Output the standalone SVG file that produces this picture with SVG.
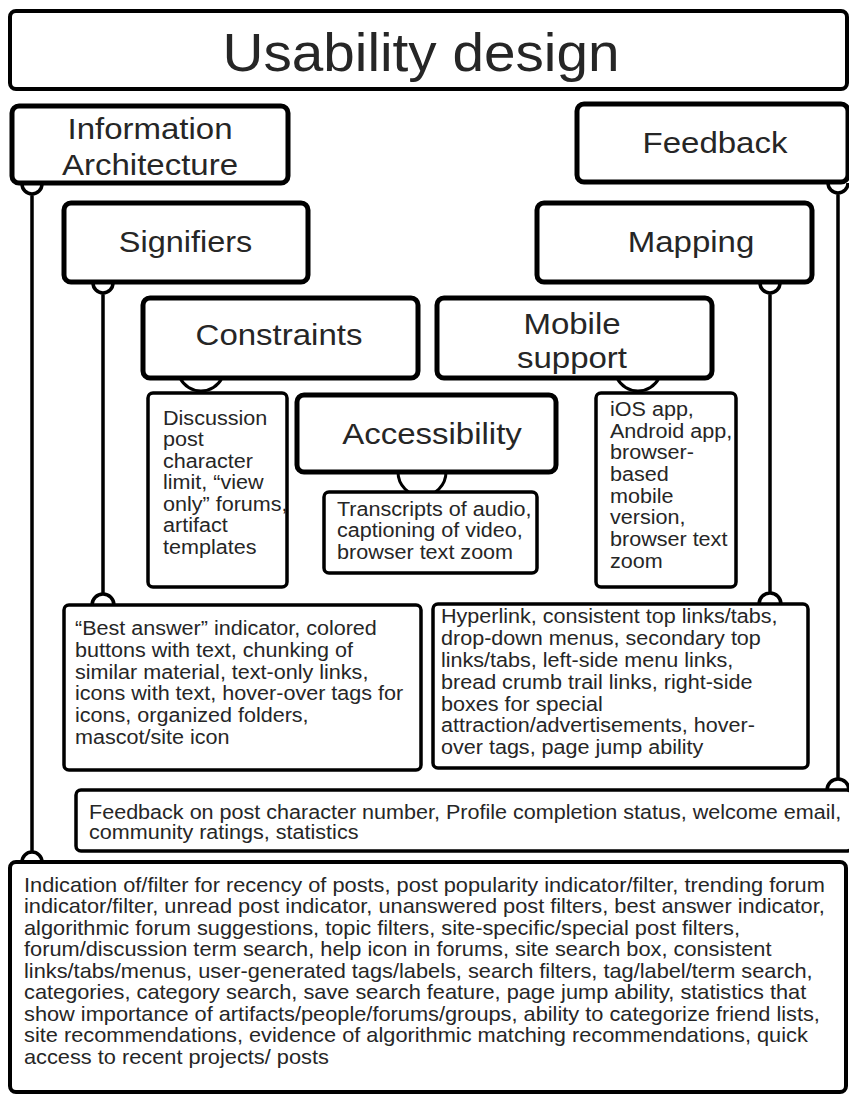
<svg xmlns="http://www.w3.org/2000/svg" width="849" height="1094" viewBox="0 0 849 1094">
<style>
.hdr{fill:#fff;stroke:#000;stroke-width:5}
.lst{fill:#fff;stroke:#000;stroke-width:3.5}
.big{font-family:"Liberation Sans",Arial,sans-serif;font-size:30px;fill:#262626;text-anchor:middle}
.sm{font-family:"Liberation Sans",Arial,sans-serif;font-size:19.6px;fill:#262626}
.con{fill:none;stroke:#000;stroke-width:3.5}
.seg{fill:#fff;stroke:#000;stroke-width:3}
</style>
<rect width="849" height="1094" fill="#fff"/>
<g id="connectors">
<path class="con" d="M22,184 A10,10 0 0 0 42,184 M32,194 V852 M22,862 A10,10 0 0 1 42,862"/>
<path class="con" d="M93,283 A10,10 0 0 0 113,283 M103,293 V595 M92,605 A11,11 0 0 1 114,605"/>
<path class="con" d="M760,283 A10,10 0 0 0 780,283 M770,293 V593 M759,604 A11,11 0 0 1 781,604"/>
<path class="con" d="M828,183 A10,10 0 0 0 848,183 M838,193 V780 M827,790 A11,11 0 0 1 849,790"/>
<path class="seg" d="M180,378 A23.5,23.5 0 0 0 222,378 Z"/>
<path class="seg" d="M398,472 A24,24 0 0 0 446,472 Z"/>
<path class="seg" d="M617,378 A23.5,23.5 0 0 0 659,378 Z"/>
</g>
<g id="title">
<rect x="10" y="11" width="837" height="78" rx="6" fill="#fff" stroke="#000" stroke-width="4"/>
<g transform="translate(421 0) scale(1.04 1)"><text x="0" y="71" class="big" style="font-size:54.5px">Usability design</text></g>
</g>
<g id="information-architecture">
<rect class="hdr" x="12" y="106" width="276" height="77" rx="7"/>
<g transform="translate(150 0) scale(1.1 1)">
<text class="big" x="0" y="139">Information</text>
<text class="big" x="0" y="175">Architecture</text>
</g>
</g>
<g id="feedback">
<rect class="hdr" x="577" y="104" width="271" height="78" rx="7"/>
<g transform="translate(715 0) scale(1.1 1)"><text class="big" x="0" y="153">Feedback</text></g>
</g>
<g id="signifiers">
<rect class="hdr" x="64" y="203" width="244" height="79" rx="7"/>
<g transform="translate(185.5 0) scale(1.1 1)"><text class="big" x="0" y="252" style="font-size:29.5px">Signifiers</text></g>
</g>
<g id="mapping">
<rect class="hdr" x="537" y="203" width="275" height="79" rx="7"/>
<g transform="translate(691 0) scale(1.1 1)"><text class="big" x="0" y="252">Mapping</text></g>
</g>
<g id="constraints">
<rect class="hdr" x="143" y="298" width="275" height="80" rx="7"/>
<g transform="translate(279 0) scale(1.1 1)"><text class="big" x="0" y="345">Constraints</text></g>
</g>
<g id="mobile-support">
<rect class="hdr" x="437" y="298" width="275" height="80" rx="7"/>
<g transform="translate(572 0) scale(1.1 1)">
<text class="big" x="0" y="334">Mobile</text>
<text class="big" x="0" y="368">support</text>
</g>
</g>
<g id="accessibility">
<rect class="hdr" x="297" y="395" width="259" height="77" rx="7"/>
<g transform="translate(432 0) scale(1.1 1)"><text class="big" x="0" y="444">Accessibility</text></g>
</g>
<g id="constraints-list">
<rect class="lst" x="148" y="393" width="139" height="194" rx="5"/>
<g class="sm" transform="translate(163 0) scale(1.1 1)">
<text x="0" y="425">Discussion</text>
<text x="0" y="446.5">post</text>
<text x="0" y="468">character</text>
<text x="0" y="489.5">limit, “view</text>
<text x="0" y="511">only” forums,</text>
<text x="0" y="532.5">artifact</text>
<text x="0" y="554">templates</text>
</g>
</g>
<g id="accessibility-list">
<rect class="lst" x="324" y="492" width="213" height="81" rx="5"/>
<g class="sm" transform="translate(337 0) scale(1.1 1)">
<text x="0" y="516">Transcripts of audio,</text>
<text x="0" y="537.5">captioning of video,</text>
<text x="0" y="559">browser text zoom</text>
</g>
</g>
<g id="mobile-list">
<rect class="lst" x="596" y="393" width="140" height="194" rx="5"/>
<g class="sm" transform="translate(610 0) scale(1.1 1)">
<text x="0" y="416">iOS app,</text>
<text x="0" y="437.7">Android app,</text>
<text x="0" y="459.4">browser-</text>
<text x="0" y="481.1">based</text>
<text x="0" y="502.8">mobile</text>
<text x="0" y="524.5">version,</text>
<text x="0" y="546.2">browser text</text>
<text x="0" y="567.9">zoom</text>
</g>
</g>
<g id="signifiers-list">
<rect class="lst" x="64" y="605" width="357" height="165" rx="5"/>
<g class="sm" transform="translate(75 0) scale(1.1 1)">
<text x="0" y="635">“Best answer” indicator, colored</text>
<text x="0" y="656.8">buttons with text, chunking of</text>
<text x="0" y="678.6">similar material, text-only links,</text>
<text x="0" y="700.4">icons with text, hover-over tags for</text>
<text x="0" y="722.2">icons, organized folders,</text>
<text x="0" y="744">mascot/site icon</text>
</g>
</g>
<g id="mapping-list">
<rect class="lst" x="433" y="604" width="375" height="164" rx="5"/>
<g class="sm" transform="translate(441 0) scale(1.1 1)">
<text x="0" y="623">Hyperlink, consistent top links/tabs,</text>
<text x="0" y="644.9">drop-down menus, secondary top</text>
<text x="0" y="666.8">links/tabs, left-side menu links,</text>
<text x="0" y="688.7">bread crumb trail links, right-side</text>
<text x="0" y="710.6">boxes for special</text>
<text x="0" y="732.5">attraction/advertisements, hover-</text>
<text x="0" y="754.4">over tags, page jump ability</text>
</g>
</g>
<g id="feedback-list">
<rect class="lst" x="76" y="790" width="776" height="61" rx="5"/>
<g class="sm" transform="translate(89 0) scale(1.1 1)">
<text x="0" y="819">Feedback on post character number, Profile completion status, welcome email,</text>
<text x="0" y="839">community ratings, statistics</text>
</g>
</g>
<g id="information-architecture-list">
<rect x="10" y="862" width="836" height="230" rx="6" fill="#fff" stroke="#000" stroke-width="4"/>
<g class="sm" style="font-size:19.8px" transform="translate(24 0) scale(1.1 1)">
<text x="0" y="892">Indication of/filter for recency of posts, post popularity indicator/filter, trending forum</text>
<text x="0" y="913.5">indicator/filter, unread post indicator, unanswered post filters, best answer indicator,</text>
<text x="0" y="935">algorithmic forum suggestions, topic filters, site-specific/special post filters,</text>
<text x="0" y="956.5">forum/discussion term search, help icon in forums, site search box, consistent</text>
<text x="0" y="978">links/tabs/menus, user-generated tags/labels, search filters, tag/label/term search,</text>
<text x="0" y="999.5">categories, category search, save search feature, page jump ability, statistics that</text>
<text x="0" y="1021">show importance of artifacts/people/forums/groups, ability to categorize friend lists,</text>
<text x="0" y="1042.5">site recommendations, evidence of algorithmic matching recommendations, quick</text>
<text x="0" y="1064">access to recent projects/ posts</text>
</g>
</g>
</svg>
